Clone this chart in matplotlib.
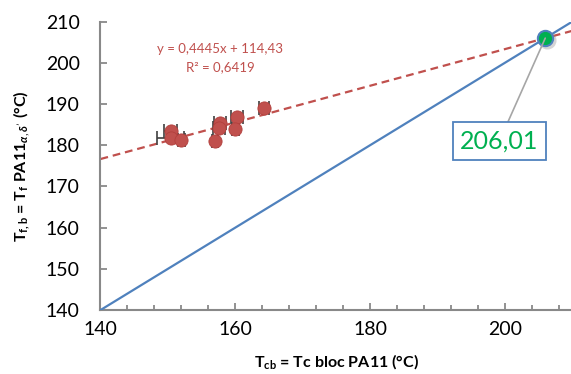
import numpy as np
import matplotlib
matplotlib.use('Agg')
from matplotlib import pyplot as plt

# donnees
tc_bloc = [150.4, 150.4, 152.0, 157.0, 157.8, 157.6, 160.3, 160.0, 164.3]
tf_bloc = [183.5, 181.7, 181.3, 181.1, 185.5, 184.2, 186.9, 184.0, 189.1]
tc_err = [1.0, 2.0, 0.5, 0.5, 0.9, 0.9, 0.9, 0.5, 0.75]

slope = 0.4445
intercept = 114.43
r2 = 0.6419
x_inter = 206.01

x_ticks = [140, 160, 180, 200]
y_ticks = [140, 150, 160, 170, 180, 190, 200, 210]

red = '#C0504D'
blue = '#4F81BD'
green = '#00B050'
grey = '#898989'

plt.rcParams['font.family'] = ['Lato', 'DejaVu Sans']
plt.rcParams['mathtext.fontset'] = 'custom'
plt.rcParams['mathtext.rm'] = 'Lato'
plt.rcParams['mathtext.it'] = 'Lato:italic:bold'
plt.rcParams['mathtext.bf'] = 'Lato:bold'

fig = plt.figure(figsize=(5.71, 3.74), dpi=100)
ax = fig.add_axes([0.176, 0.171, 0.826, 0.771])

# droite de tendance
xt = np.array([140, 210])
ax.plot(xt, slope * xt + intercept, color=red, lw=1.6, ls=(0, (3.5, 2.2)), zorder=2)

# y = x
ax.plot([140, 210], [140, 210], color=blue, lw=1.6, zorder=3)

# points + barres d'erreur
ax.errorbar(tc_bloc, tf_bloc, xerr=tc_err, fmt='none', ecolor='#404040',
            elinewidth=1.2, capsize=5, capthick=1.2, zorder=4)
ax.plot(tc_bloc, tf_bloc, 'o', ms=9.5, color=red, mec='#B23F3C', mew=0.6, zorder=5)

# intersection
ax.plot([x_inter + 0.25], [x_inter - 0.4], 'o', ms=13, color='#888888', alpha=0.35, mew=0, zorder=5)
ax.plot([x_inter], [x_inter], 'o', ms=11, color=green, mec=blue, mew=1.5, zorder=6)
ax.annotate(f'{x_inter:.2f}'.replace('.', ','), xy=(x_inter, x_inter), xytext=(199.2, 181.0),
            ha='center', va='center', fontsize=18, color=green,
            bbox=dict(boxstyle='square,pad=0.3', fc='white', ec=blue, lw=1.3),
            arrowprops=dict(arrowstyle='-', color='#A6A6A6', lw=1.2, shrinkA=0, shrinkB=0),
            zorder=7)

ax.text(157.8, 203.3, f'y = {slope:.4f}x + {intercept:.2f}'.replace('.', ','),
        color=red, fontsize=9.5, ha='center', va='center')
ax.text(157.8, 199.0, f'R² = {r2:.4f}'.replace('.', ','),
        color=red, fontsize=9.5, ha='center', va='center')

ax.set_xlim(140, 210)
ax.set_ylim(140, 210)
ax.set_xticks(x_ticks)
ax.set_xticks(np.arange(140, 211, 4), minor=True)
ax.set_yticks(y_ticks)
ax.tick_params(axis='both', direction='in', labelsize=14, color=grey, width=1.3, length=5)
ax.tick_params(axis='x', which='minor', direction='in', color=grey, width=1.3, length=3.5)
ax.tick_params(axis='y', which='minor', left=False)
ax.tick_params(axis='x', pad=8)
ax.tick_params(axis='y', pad=15)

for s in ['top', 'right']:
    ax.spines[s].set_visible(False)
for s in ['left', 'bottom']:
    ax.spines[s].set_color(grey)
    ax.spines[s].set_linewidth(1.5)

ax.set_xlabel(r'$\mathbf{T_{cb}}$ = Tc bloc PA11 (°C)', fontsize=11.5, fontweight='bold', labelpad=10)
ax.set_ylabel(r"$\mathbf{T_{f,b}}$ = $\mathbf{T_f}$ PA11$_{\alpha,\delta'}$ (°C)", fontsize=11.5,
              fontweight='bold', labelpad=10)

fig.savefig('out.png', dpi=100)
